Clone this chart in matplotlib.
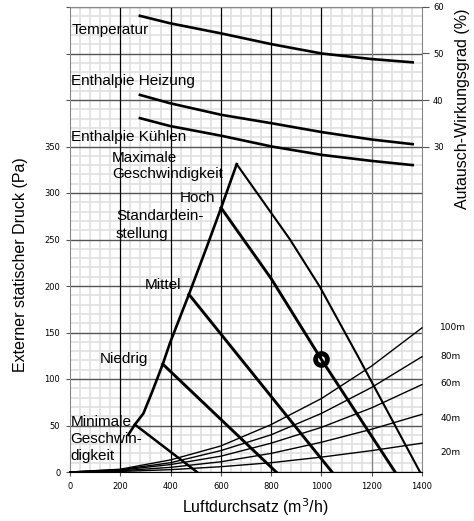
import matplotlib
matplotlib.use("Agg")
import matplotlib.pyplot as plt
from matplotlib.ticker import MultipleLocator

plt.rcParams["font.family"] = ["Liberation Sans", "DejaVu Sans"]

# left boundary of the operating range
env_x = [232, 258, 292, 325, 345, 369, 398, 473, 544, 601, 663]
env_y = [40, 51, 63, 85, 99, 116, 139, 191, 242, 284, 331]

# fan curves (x in m3/h, y in Pa)
min_x = [258, 505]
min_y = [51, 0]
niedrig_x = [369, 820]
niedrig_y = [116, 0]
mittel_x = [473, 1042]
mittel_y = [191, 0]
hoch_x = [601, 800, 1000, 1293]
hoch_y = [284, 208, 121, 0]
max_x = [663, 875, 994, 1146, 1392]
max_y = [331, 250, 199, 124, 0]

# duct pressure loss curves
duct_x = [0, 200, 400, 600, 800, 1000, 1200, 1400]
duct_y = {
    "100m": [0, 3, 13, 28, 51, 79, 114, 155],
    "80m": [0, 2.5, 10, 23, 40, 63, 91, 124],
    "60m": [0, 2, 8, 17, 31, 48, 69, 94],
    "40m": [0, 1.3, 5, 11, 20, 32, 46, 62],
    "20m": [0, 0.6, 2.5, 5.7, 10, 16, 23, 31],
}
duct_label_y = [155, 124, 95, 58, 21]

# efficiency curves (right axis, %)
eff_x = [278, 398, 603, 802, 1001, 1200, 1363]
temp = [58.1, 56.5, 54.3, 52.0, 50.0, 48.8, 48.1]
heiz = [41.1, 39.3, 36.8, 35.0, 33.1, 31.5, 30.5]
kuehl = [36.1, 34.4, 32.3, 30.0, 28.2, 26.9, 26.0]

# operating point
op_x = [1000]
op_y = [121]

fig = plt.figure(figsize=(4.74, 5.21), dpi=100)
ax = fig.add_axes([70 / 474, 49 / 521, 352 / 474, 465 / 521])

ax.set_xlim(0, 1400)
ax.set_ylim(0, 500)
ax.set_xticks(range(0, 1401, 200))
ax.set_yticks(range(0, 501, 50))
ax.set_yticklabels([str(v) if v <= 350 else "" for v in range(0, 501, 50)])
ax.xaxis.set_minor_locator(MultipleLocator(40))
ax.yaxis.set_minor_locator(MultipleLocator(10))

ax.grid(which="minor", color="#e0e0e0", lw=1.2)
ax.grid(which="major", axis="y", color="#555555", lw=1.0)
ax.set_axisbelow(True)
# vertical major lines drawn on top of the light grid
for xv in ax.get_xticks()[1:-1]:
    ax.axvline(xv, color="#888888" if xv == 1200 else "black", lw=1.0 if xv == 1200 else 0.9, zorder=1.5)

ax.tick_params(which="minor", length=0)
ax.tick_params(which="major", length=3, labelsize=6, pad=4, color="#555555")
for lab in ax.get_xticklabels() + ax.get_yticklabels():
    lab.set_family("DejaVu Sans")

for side in ["top", "right", "left"]:
    ax.spines[side].set_color("#888888")
ax.spines["bottom"].set_color("black")

# curves
ax.plot(env_x, env_y, color="black", lw=1.9, zorder=3)
ax.plot(min_x, min_y, color="black", lw=1.8, zorder=3)
ax.plot(niedrig_x, niedrig_y, color="black", lw=2.1, zorder=3)
ax.plot(mittel_x, mittel_y, color="black", lw=2.1, zorder=3)
ax.plot(hoch_x, hoch_y, color="black", lw=2.1, zorder=3)
ax.plot(max_x, max_y, color="black", lw=1.5, zorder=3)
for name in duct_y:
    ax.plot(duct_x, duct_y[name], color="black", lw=1.0, zorder=3, clip_on=False)
for name, yy in zip(duct_y, duct_label_y):
    ax.text(1472, yy, name, fontsize=6.5, family="DejaVu Sans", va="center", ha="left")

ax.plot(op_x, op_y, "o", ms=8.5, mew=3.5, mec="black", mfc="none", zorder=4)

# labels inside the chart
txt = dict(fontsize=11, ha="left", va="center", zorder=5)
ax.text(8, 475, "Temperatur", **txt)
ax.text(2, 420, "Enthalpie Heizung", **txt)
ax.text(2, 360.5, "Enthalpie Kühlen", **txt)
ax.text(167, 329, "Maximale\nGeschwindigkeit", linespacing=1.1, **txt)
ax.text(438, 294.6, "Hoch", **txt)
ax.text(183, 265.6, "Standardein-\nstellung", linespacing=1.3, **txt)
ax.text(298, 201, "Mittel", **txt)
ax.text(119, 121.5, "Niedrig", **txt)
ax.text(2, 35.5, "Minimale\nGeschwin-\ndigkeit", linespacing=1.25, **txt)

# right axis for efficiency
ax2 = ax.twinx()
ax2.set_ylim(-40, 60)
ax2.set_yticks([30, 40, 50, 60])
ax2.tick_params(length=5, labelsize=6, pad=3, color="#555555")
for lab in ax2.get_yticklabels():
    lab.set_family("DejaVu Sans")
for side in ax2.spines:
    ax2.spines[side].set_visible(False)
ax2.plot(eff_x, temp, color="black", lw=1.9)
ax2.plot(eff_x, heiz, color="black", lw=1.9)
ax2.plot(eff_x, kuehl, color="black", lw=1.9)

fig.text(21 / 474, 1 - 265 / 521, "Externer statischer Druck (Pa)", rotation=90,
         ha="center", va="center", fontsize=11.5)
fig.text(255 / 474, 1 - 507 / 521, "Luftdurchsatz (m$^3$/h)", ha="center", va="center",
         fontsize=11.5)
fig.text(463 / 474, 1 - 109 / 521, "Autausch-Wirkungsgrad (%)", rotation=90,
         ha="center", va="center", fontsize=11.5)

fig.savefig("out.png", dpi=100)
